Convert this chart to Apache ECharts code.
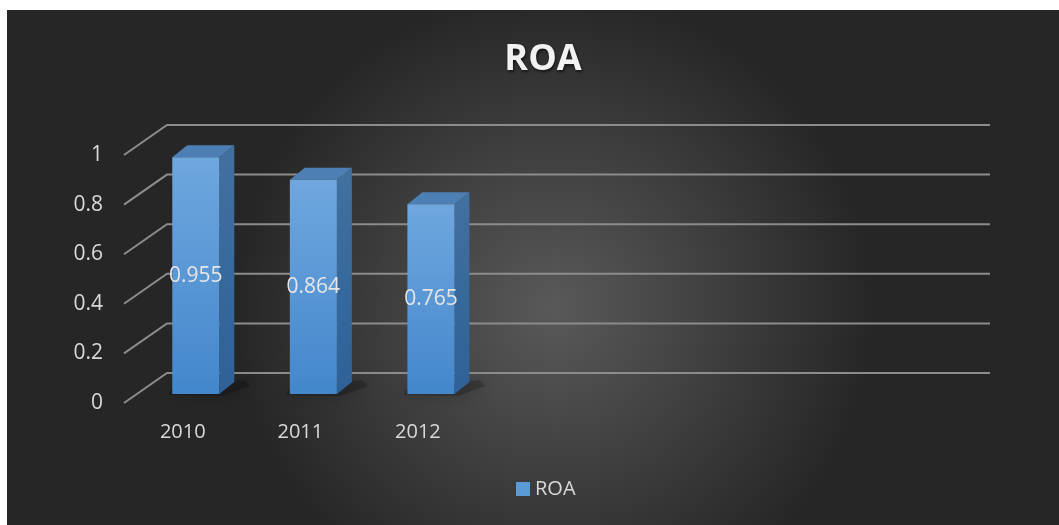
<!DOCTYPE html>
<html>
<head>
<meta charset="utf-8">
<script src="https://cdn.jsdelivr.net/npm/echarts@6/dist/echarts.min.js"></script>
<style>
html,body{margin:0;padding:0;background:#fff;}
#c{width:1059px;height:525px;}
</style>
</head>
<body>
<div id="c"></div>
<script>
const categories = ['2010', '2011', '2012'];
const roaValues = [0.955, 0.864, 0.765];
const yTicks = [0, 0.2, 0.4, 0.6, 0.8, 1];
const emptySlots = ['', '', '', ''];

const DEPTH_X = 43, DEPTH_Y = -30;
const BAR_DX = 13, BAR_DY = -9;
const SIDE_DX = 15, SIDE_DY = -12;

const chart = echarts.init(document.getElementById('c'));

const option = {
  backgroundColor: '#ffffff',
  animation: false,
  graphic: [{
    type: 'rect', z: -100, silent: true,
    shape: { x: 7, y: 10, width: 1052, height: 515 },
    style: {
      fill: new echarts.graphic.RadialGradient(0.52, 0.58, 0.62, [
        { offset: 0, color: '#595959' },
        { offset: 1, color: '#262626' }
      ])
    }
  }],
  title: {
    text: 'ROA', left: 538, textAlign: 'center', top: 37,
    textStyle: {
      color: '#f2f2f2', fontSize: 36, fontWeight: 'bold', fontFamily: 'Open Sans',
      textShadowColor: 'rgba(0,0,0,0.6)', textShadowBlur: 3, textShadowOffsetX: 1, textShadowOffsetY: 2
    }
  },
  legend: {
    data: ['ROA'], bottom: 21, left: 511, icon: 'rect',
    itemWidth: 14, itemHeight: 14, itemGap: 6,
    textStyle: { color: '#d9d9d9', fontSize: 20, fontFamily: 'Open Sans' }
  },
  grid: { left: 124, right: 112, top: 155, bottom: 122 },
  xAxis: {
    type: 'category',
    data: categories.concat(emptySlots),
    axisLine: { show: false }, axisTick: { show: false },
    axisLabel: { color: '#d9d9d9', fontSize: 20, fontFamily: 'Open Sans', margin: 19 },
    splitLine: { show: false }
  },
  yAxis: {
    type: 'value', min: 0, max: 1, interval: 0.2,
    axisLine: { show: false }, axisTick: { show: false },
    axisLabel: { color: '#d9d9d9', fontSize: 21, fontFamily: 'Open Sans', margin: 21 },
    splitLine: { show: false }
  },
  series: [
    {
      name: 'grid3d', type: 'custom', silent: true, z: 1,
      data: yTicks.map(v => [0, v]),
      encode: { x: 0, y: 1 },
      renderItem: function (params, api) {
        const cs = params.coordSys;
        const y = api.coord([0, api.value(1)])[1];
        const x0 = cs.x;
        return {
          type: 'polyline',
          shape: { points: [[x0, y], [x0 + DEPTH_X, y + DEPTH_Y], [x0 + cs.width + DEPTH_X, y + DEPTH_Y]] },
          style: { stroke: '#8c8c8c', lineWidth: 2, fill: null }
        };
      }
    },
    {
      name: 'ROA', type: 'custom', z: 3,
      itemStyle: { color: '#5b9bd5' },
      data: roaValues.map((v, i) => [i, v]),
      encode: { x: 0, y: 1 },
      renderItem: function (params, api) {
        const i = api.value(0), v = api.value(1);
        const base = api.coord([i, 0]);
        const top = api.coord([i, v]);
        const bw = api.size([1, 0])[0];
        const w = bw * 0.4;
        const l = base[0] - w / 2 + BAR_DX;
        const r = l + w;
        const yb = base[1] + BAR_DY;
        const yt = top[1] + BAR_DY;
        return {
          type: 'group',
          children: [
            {
              type: 'polygon',
              shape: { points: [[l - 2, yb - 4], [r + SIDE_DX + 10, yb + SIDE_DY - 2], [r + SIDE_DX + 16, yb + SIDE_DY + 4], [r + 4, yb + 2], [l - 4, yb + 1]] },
              style: { fill: 'rgba(0,0,0,0.2)', shadowBlur: 16, shadowColor: 'rgba(0,0,0,1)' }
            },
            {
              type: 'polygon',
              shape: { points: [[r, yb], [r + SIDE_DX, yb + SIDE_DY], [r + SIDE_DX, yt + SIDE_DY], [r, yt]] },
              style: { fill: new echarts.graphic.LinearGradient(0, 0, 0, 1, [
                { offset: 0, color: '#41719f' }, { offset: 1, color: '#2f6198' }]) }
            },
            {
              type: 'polygon',
              shape: { points: [[l, yt], [l + SIDE_DX, yt + SIDE_DY], [r + SIDE_DX, yt + SIDE_DY], [r, yt]] },
              style: { fill: '#4d7fb5' }
            },
            {
              type: 'rect',
              shape: { x: l, y: yt, width: w, height: yb - yt },
              style: { fill: new echarts.graphic.LinearGradient(0, 0, 0, 1, [
                { offset: 0, color: '#6fa7de' }, { offset: 1, color: '#4387cc' }]) }
            },
            {
              type: 'text',
              style: {
                text: String(v), x: (l + r) / 2, y: (yt + yb) / 2,
                align: 'center', verticalAlign: 'middle',
                fill: '#e6e6e6', fontSize: 21, fontFamily: 'Open Sans'
              }
            }
          ]
        };
      }
    }
  ]
};
chart.setOption(option);
</script>
</body>
</html>
